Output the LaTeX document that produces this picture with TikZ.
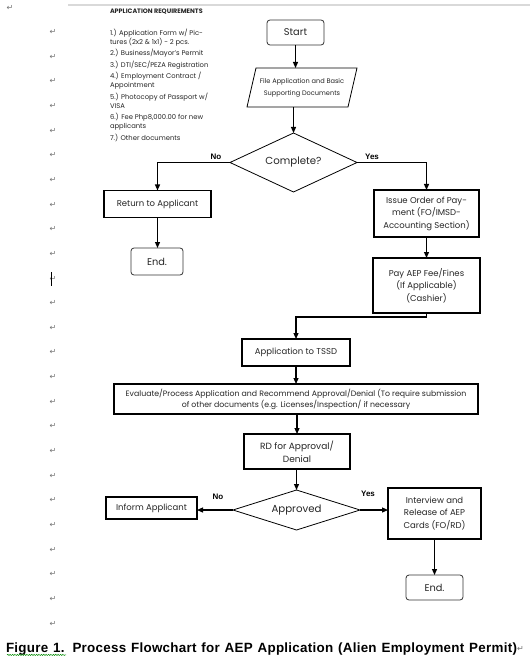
\documentclass[tikz,border=0pt]{standalone}
\usepackage{fontspec}
\setmainfont{Poppins}
\newfontfamily\arialfont{Liberation Sans}
\newfontfamily\arialspaced[LetterSpace=2]{Liberation Sans}
\newfontfamily\dejavu{DejaVu Sans}
\usetikzlibrary{arrows.meta,calc,decorations.pathmorphing}
\begin{document}
\begin{tikzpicture}[x=1pt,y=-1pt,
  every node/.style={inner sep=0pt, outer sep=0pt},
  txt/.style={align=center, text=black!85},
  proc/.style={draw=black, line width=0.8pt, txt, font=\fontsize{8.5}{12.4}\selectfont},
  thickproc/.style={proc, line width=1.5pt},
  term/.style={proc, rounded corners=3pt, draw=black!80, font=\fontsize{9.8}{11}\selectfont},
  shapeline/.style={line width=0.8pt, draw=black},
  flow/.style={line width=1.2pt, -{Triangle[length=6pt,width=5pt]}},
  lbl/.style={font=\arialfont\bfseries\fontsize{8}{9}\selectfont},
  pmark/.style={font=\dejavu\fontsize{8}{9}\selectfont, text=black!55},
  req/.style={font=\fontsize{6.8}{9}\selectfont, align=left, anchor=north west, text=black!85}
]
\useasboundingbox (0,0) rectangle (530,668);
\fill[white] (0,0) rectangle (530,668);
% page edge line
\draw[black!15, line width=1.5pt] (68,5) -- (530,5);
% paragraph marks
\node[pmark] (pm0) at (10,7.5) {↵};
\foreach \i in {0,...,24} \node[pmark] (pmk\i) at (53,{32+24.65*\i}) {↵};
\fill[black] (50.5,272) rectangle (52,286);

% requirements
\node[anchor=west, font=\bfseries\fontsize{6.4}{7}\selectfont, text=black!85] (reqt) at (110,11.5) {APPLICATION REQUIREMENTS};
\node[req] (reql) at (110,28.8) {1.) Application Form w/ Pic-\\tures (2x2 \& 1x1) - 2 pcs.\\[2.5pt]
2.) Business/Mayor's Permit\\[2.5pt]
3.) DTI/SEC/PEZA Registration\\[2.5pt]
4.) Employment Contract /\\Appointment\\[2.5pt]
5.) Photocopy of Passport w/\\VISA\\[2.5pt]
6.) Fee Php8,000.00 for new\\applicants\\[2.5pt]
7.) Other documents};

% nodes
\node[term, minimum width=57pt, minimum height=25pt] (start) at (295.5,32.5) {Start};
\node[txt, minimum width=110pt, minimum height=39pt, font=\fontsize{6.6}{11.8}\selectfont] (file) at (302,87.5) {File Application and Basic\\Supporting Documents};
\draw[shapeline] ($(file.north west)+(9pt,0)$) -- (file.north east) -- ($(file.south east)-(9pt,0)$) -- (file.south west) -- cycle;
\node[txt, minimum width=127pt, minimum height=59pt, font=\fontsize{10.2}{11}\selectfont] (comp) at (293.5,162.5) {Complete?};
\draw[shapeline] (comp.north) -- (comp.east) -- (comp.south) -- (comp.west) -- cycle;
\node[proc, line width=1.1pt, minimum width=107pt, minimum height=27pt] (ret) at (157.5,204) {Return to Applicant};
\node[term, minimum width=52pt, minimum height=27pt] (end1) at (157,261.5) {End.};
\node[thickproc, minimum width=105pt, minimum height=47pt] (issue) at (426.5,213.5) {Issue Order of Pay-\\ment (FO/IMSD-\\Accounting Section)};
\node[thickproc, minimum width=107pt, minimum height=55pt] (pay) at (426.5,285.5) {Pay AEP Fee/Fines\\(If Applicable)\\(Cashier)};
\node[thickproc, minimum width=108pt, minimum height=27pt] (tssd) at (296,352.5) {Application to TSSD};
\node[thickproc, line width=1.2pt, minimum width=364pt, minimum height=30pt, font=\fontsize{7.8}{11}\selectfont] (eval) at (296,399) {Evaluate/Process Application and Recommend Approval/Denial (To require submission\\of other documents (e.g. Licenses/Inspection/ if necessary};
\node[thickproc, minimum width=106pt, minimum height=35pt, font=\fontsize{9}{13}\selectfont] (rd) at (297,451.5) {RD for Approval/\\Denial};
\node[txt, minimum width=127pt, minimum height=40pt, font=\fontsize{10.2}{11}\selectfont] (appr) at (296.5,510) {Approved};
\draw[shapeline] (appr.north) -- (appr.east) -- (appr.south) -- (appr.west) -- cycle;
\node[proc, line width=1.1pt, minimum width=91pt, minimum height=22pt] (inform) at (151.5,508) {Inform Applicant};
\node[thickproc, minimum width=93pt, minimum height=51pt] (interview) at (434.5,513.5) {Interview and\\Release of AEP\\Cards (FO/RD)};
\node[term, minimum width=57pt, minimum height=25pt] (end2) at (434.5,587.5) {End.};

% connectors
\draw[flow] (start.south) -- (start.south |- file.north);
\draw[flow] (comp.north |- file.south) -- (comp.north);
\draw[flow] (comp.west) -| (ret.north);
\draw[flow] (comp.east) -| (issue.north);
\draw[flow] (ret.south) -- (ret.south |- end1.north);
\draw[flow] (issue.south) -- (pay.north);
\draw[flow] (pay.south) -- ++(0,4) -| (tssd.north);
\draw[flow] (tssd.south) -- (tssd.south |- eval.north);
\draw[flow] (rd.north |- eval.south) -- (rd.north);
\draw[flow] (appr.north |- rd.south) -- (appr.north);
\draw[flow] (appr.west) -- (appr.west -| inform.east);
\draw[flow] (appr.east) -- (appr.east -| interview.west);
\draw[flow] (interview.south) -- (end2.north);

% labels
\node[lbl] (no1) at ($(comp.west)+(-14,-6)$) {No};
\node[lbl] (yes1) at ($(comp.east)+(15,-6)$) {Yes};
\node[lbl] (no2) at ($(appr.west)+(-15,-13)$) {No};
\node[lbl] (yes2) at ($(appr.east)+(8,-16)$) {Yes};

% caption
\node[anchor=west, font=\arialspaced\bfseries\fontsize{13.4}{15}\selectfont] (cap) at (6,649) {\makebox[511pt][s]{Figure 1. Process Flowchart for AEP Application (Alien Employment Permit)}};
\node[pmark, anchor=west] (capmark) at (cap.east) {↵};
\draw[green!55!black, line width=0.5pt, decorate, decoration={snake, amplitude=0.6pt, segment length=2.4pt}]
  ($(cap.base west)+(1pt,-2.5pt)$) -- ($(cap.base west)+(60pt,-2.5pt)$);
\end{tikzpicture}
\end{document}
